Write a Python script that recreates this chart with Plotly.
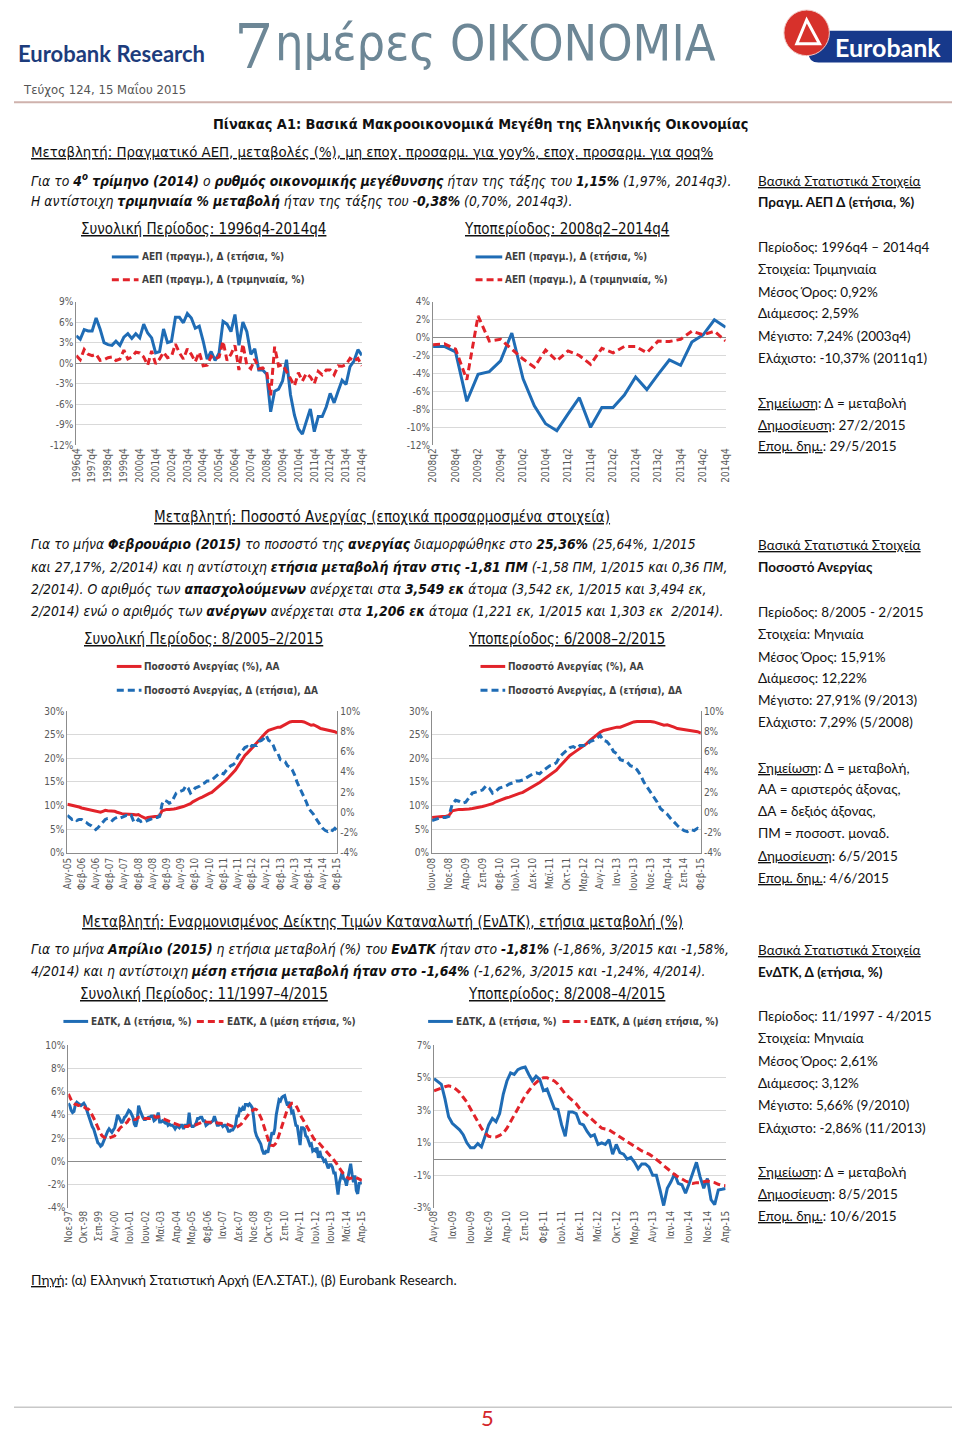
import plotly.graph_objects as go

W, H = 960, 1438
PAGE_MARGIN = 8  # default browser body margin around the plot div

# ---------------- DATA ----------------
month_abbr = ["Ιαν", "Φεβ", "Μαρ", "Απρ", "Μαϊ", "Ιουν", "Ιουλ", "Αυγ", "Σεπ", "Οκτ", "Νοε", "Δεκ"]


def month_labels(y0, m0, y1, m1):
    out = []
    y, m = y0, m0
    while (y, m) <= (y1, m1):
        out.append(f"{month_abbr[m - 1]}-{y % 100:02d}")
        m += 1
        if m == 13:
            m, y = 1, y + 1
    return out


gdp_quarters = ["1996q4"] + [f"{y}q{q}" for y in range(1997, 2015) for q in (1, 2, 3, 4)]

# GDP real, annual change % (yoy), 1996q4-2014q4
gdp_yoy = [4.0, 3.5, 4.9, 4.7, 4.7, 6.6, 5.0, 3.0, 2.7, 2.6, 3.2, 2.6, 3.8, 4.3, 3.6, 4.3,
           3.7, 5.7, 4.4, 3.7, 1.5, 1.7, 5.0, 3.0, 3.2, 6.7, 6.7, 5.9, 7.24, 6.6, 5.1, 5.4,
           3.2, 0.6, 1.7, 0.4, 1.5, 6.1, 5.7, 4.6, 7.1, 2.6, 6.0, 4.6, 1.3, 2.1,
           -1.0, -1.0, -1.6, -7.1, -4.1, -3.8, -2.6, 0.5, -4.6, -7.6, -9.6, -10.37, -8.5,
           -6.7, -10.0, -7.8, -7.8, -6.4, -4.4, -5.8, -4.1, -2.5, -3.1, -0.5, 0.3, 1.97, 1.15]
# GDP real, quarterly change % (qoq)
gdp_qoq = [1.1, 0.5, 2.0, 1.3, 1.1, 1.3, 0.4, 0.5, 0.8, 0.9, 0.4, 0.6, 1.9, 0.6, 0.9, 1.6,
           1.5, 0.9, -0.3, 1.8, -0.1, 0.6, 1.6, 0.8, 1.0, 2.8, 1.5, 0.6, 2.1, 1.3, 0.2, 1.6,
           -0.4, -0.3, 1.0, 0.6, 0.9, 3.2, 0.4, 1.3, 2.6, -1.0, 2.8, -0.3, -0.8, 0.6,
           -0.8, -0.7, -1.3, -4.7, 2.4, -0.4, -0.2, -1.3, -2.4, -3.3, -1.4, -2.6, -1.5,
           -2.0, -3.0, -1.2, -1.7, -1.0, -1.0, -1.7, -0.4, -0.45, -0.2, 0.7, 0.3, 0.70, -0.38]

unemp_months = month_labels(2005, 8, 2015, 2)
# Unemployment rate %, 8/2005-2/2015 (left axis)
unemp_rate = [10.3, 10.2, 10.1, 10.0, 9.9,
              9.7, 9.5, 9.4, 9.3, 9.1, 9.0, 8.9, 8.8, 8.7, 8.6, 8.8, 9.0,
              8.9, 8.9, 8.8, 8.8, 8.6, 8.4, 8.3, 8.2, 8.2, 8.1, 8.2, 8.1,
              8.0, 8.1, 7.8, 7.5, 7.29, 7.5, 7.6, 7.6, 7.7, 7.7, 7.9, 8.9,
              9.1, 9.2, 9.2, 9.2, 9.3, 9.4, 9.5, 9.7, 9.8, 10.0, 10.2, 10.4,
              10.8, 11.1, 11.3, 11.6, 11.8, 12.1, 12.4, 12.6, 12.8, 13.2, 13.6, 14.1,
              14.5, 14.9, 15.4, 15.9, 16.4, 16.9, 17.5, 18.3, 19.1, 20.0, 20.6, 21.1,
              21.6, 22.1, 22.6, 23.1, 23.8, 24.4, 25.0, 25.5, 25.9, 26.1, 26.2, 26.4,
              26.6, 26.6, 26.9, 27.1, 27.5, 27.7, 27.8, 27.8, 27.91, 27.8, 27.8, 27.7,
              27.5, 27.17, 27.0, 27.1, 26.9, 26.6, 26.3, 26.2, 26.1, 26.0, 25.9, 25.8,
              25.64, 25.36]
# Unemployment rate, annual change (pp), right axis
unemp_change = [-0.3, -0.5, -0.7, -0.6, -0.8,
                -0.7, -0.7, -0.9, -1.0, -1.2, -1.3, -1.5, -1.7, -1.5, -1.2, -0.9, -0.7,
                -0.6, -0.6, -0.8, -0.6, -0.5, -0.6, -0.5, -0.4, -0.3, -0.4, -0.3, -0.9,
                -1.0, -0.7, -0.9, -0.8, -0.9, -0.8, -0.7, -0.6, -0.5, -0.5, -0.4, 0.8,
                1.2, 1.1, 0.9, 1.0, 1.5, 1.9, 2.0, 2.1, 2.2, 2.6, 2.4, 1.9,
                2.1, 2.4, 2.5, 2.6, 2.8, 2.9, 3.1, 3.1, 3.2, 3.4, 3.6, 3.8,
                3.9, 3.8, 4.1, 4.4, 4.6, 4.7, 4.9, 5.5, 5.8, 6.2, 6.4, 6.5,
                6.3, 6.6, 6.6, 6.6, 7.0, 7.1, 7.3, 7.6, 7.1, 7.0, 6.6, 6.0,
                5.8, 5.2, 5.1, 5.0, 4.6, 4.5, 4.2, 3.7, 3.0, 2.5, 2.0, 1.6,
                1.0, 0.36, 0.1, -0.2, -0.6, -1.0, -1.3, -1.6, -1.8, -1.9, -1.7, -1.8,
                -1.58, -1.81]

cpi_months = month_labels(1997, 11, 2015, 4)
# HICP annual change %, 11/1997-4/2015
cpi_yoy = [5.0, 4.8,
           4.4, 4.2, 4.3, 4.9, 5.1, 5.0, 4.9, 4.8, 4.9, 5.0, 4.8, 4.4,
           4.1, 3.6, 3.2, 3.0, 2.8, 2.4, 2.0, 1.6, 1.5, 1.3, 1.4, 1.7,
           2.0, 2.4, 2.6, 2.8, 2.6, 2.5, 2.7, 2.9, 3.4, 4.0, 3.8, 3.5,
           3.3, 3.5, 3.8, 3.9, 4.2, 4.4, 4.3, 4.0, 3.8, 3.2, 3.0, 3.5,
           4.8, 4.4, 4.0, 3.8, 3.6, 3.6, 3.7, 3.8, 3.8, 3.9, 3.9, 3.5,
           3.6, 3.8, 4.2, 3.4, 3.4, 3.5, 3.4, 3.3, 3.4, 3.1, 3.2, 3.1,
           3.1, 3.0, 2.8, 3.0, 3.0, 2.9, 3.1, 3.1, 2.8, 3.1, 3.1, 3.1,
           4.2, 3.2, 3.0, 3.0, 3.1, 3.3, 3.7, 3.7, 3.8, 3.8, 3.5, 3.5,
           3.1, 3.2, 3.3, 3.3, 3.4, 3.5, 3.9, 3.4, 3.1, 3.1, 3.2, 3.2,
           3.0, 3.1, 3.1, 2.9, 2.6, 2.6, 2.7, 2.7, 2.9, 3.1, 3.9, 3.9,
           4.5, 4.4, 4.6, 4.4, 4.9, 4.9, 4.8, 4.95, 4.8, 4.6, 3.7, 2.6,
           2.2, 2.0, 1.8, 1.5, 1.0, 0.7, 0.7, 0.95, 0.75, 1.4, 2.1, 2.5,
           2.3, 2.8, 4.0, 4.8, 5.3, 5.2, 5.5, 5.6, 5.66, 5.2, 4.8, 5.1,
           4.9, 4.2, 4.3, 3.7, 3.1, 3.05, 2.1, 1.4, 2.9, 2.9, 2.8, 2.2,
           2.1, 1.7, 1.4, 1.5, 0.9, 1.0, 0.9, 1.2, 0.3, 0.9, 0.4, 0.3,
           0.0, 0.1, -0.2, -0.6, -0.3, -0.3, -0.5, -1.0, -1.0, -1.9, -2.86, -1.8,
           -1.4, -0.9, -1.5, -1.58, -2.1, -1.5, -0.8, -0.2, -1.1, -1.8, -1.2, -2.5,
           -2.8, -1.9, -1.86, -1.81]
# HICP average annual change %
cpi_avg = [5.8, 5.5,
           5.3, 5.1, 5.0, 4.9, 4.9, 4.8, 4.8, 4.7, 4.7, 4.7, 4.6, 4.5,
           4.5, 4.4, 4.2, 4.0, 3.7, 3.5, 3.2, 2.9, 2.6, 2.4, 2.2, 2.1,
           2.0, 1.95, 1.95, 2.0, 2.0, 2.05, 2.1, 2.2, 2.4, 2.6, 2.8, 2.9,
           3.0, 3.1, 3.2, 3.3, 3.4, 3.6, 3.7, 3.7, 3.7, 3.6, 3.6, 3.7,
           3.8, 3.8, 3.8, 3.8, 3.7, 3.7, 3.7, 3.7, 3.7, 3.8, 3.9, 3.9,
           3.8, 3.8, 3.85, 3.8, 3.75, 3.7, 3.65, 3.6, 3.55, 3.5, 3.45, 3.4,
           3.35, 3.3, 3.2, 3.2, 3.15, 3.1, 3.05, 3.05, 3.0, 3.0, 3.0, 3.0,
           3.1, 3.1, 3.1, 3.1, 3.1, 3.15, 3.2, 3.25, 3.3, 3.35, 3.4, 3.45,
           3.4, 3.4, 3.4, 3.4, 3.4, 3.4, 3.4, 3.35, 3.3, 3.3, 3.3, 3.3,
           3.3, 3.3, 3.25, 3.2, 3.15, 3.1, 3.05, 3.0, 2.95, 2.9, 2.95, 3.0,
           3.1, 3.2, 3.35, 3.5, 3.7, 3.85, 4.0, 4.2, 4.3, 4.4, 4.45, 4.5,
           4.45, 4.3, 4.1, 3.8, 3.5, 3.1, 2.7, 2.3, 1.9, 1.6, 1.4, 1.35,
           1.35, 1.45, 1.6, 1.9, 2.3, 2.7, 3.1, 3.5, 3.9, 4.2, 4.5, 4.7,
           4.9, 5.0, 5.0, 4.9, 4.8, 4.6, 4.3, 4.0, 3.8, 3.6, 3.4, 3.1,
           2.9, 2.7, 2.5, 2.3, 2.1, 1.9, 1.85, 1.8, 1.65, 1.5, 1.4, 1.2,
           1.05, 0.9, 0.75, 0.6, 0.5, 0.4, 0.3, 0.15, 0.0, -0.2, -0.4, -0.6,
           -0.8, -0.95, -1.1, -1.24, -1.35, -1.45, -1.5, -1.45, -1.45, -1.4, -1.35, -1.4,
           -1.45, -1.55, -1.62, -1.64]

# y tick values
gdp_full_ticks = [-12, -9, -6, -3, 0, 3, 6, 9]
gdp_sub_ticks = [-12, -10, -8, -6, -4, -2, 0, 2, 4]
unemp_left_ticks = [0, 5, 10, 15, 20, 25, 30]
unemp_right_ticks = [-4, -2, 0, 2, 4, 6, 8, 10]
cpi_full_ticks = [-4, -2, 0, 2, 4, 6, 8, 10]
cpi_sub_ticks = [-3, -1, 1, 3, 5, 7]

# subperiod slices
g0 = gdp_quarters.index("2008q2")
u0 = unemp_months.index("Ιουν-08")
c0 = cpi_months.index("Αυγ-08")

# ---------------- STYLE ----------------
NARROW = "Liberation Sans Narrow, DejaVu Sans Condensed, Arial Narrow, sans-serif"
REG = "Lato, Open Sans, sans-serif"
BLUE = "#1f6cb5"
RED = "#e2232a"
GRID = "#d9d9d9"
AXC = "#8c8c8c"
TICKC = "#595959"
TXT = "#111111"
DASH = "7px,4px"

FW, FH = W - 2 * PAGE_MARGIN, H - 2 * PAGE_MARGIN


def fx(px):
    return (px - PAGE_MARGIN) / FW


def fy(py):
    return 1 - (py - PAGE_MARGIN) / FH


fig = go.Figure()

# ---- traces ----
fig.add_trace(go.Scatter(x=gdp_quarters, y=gdp_yoy, mode="lines", xaxis="x", yaxis="y",
                         line=dict(color=BLUE, width=3)))
fig.add_trace(go.Scatter(x=gdp_quarters, y=gdp_qoq, mode="lines", xaxis="x", yaxis="y",
                         line=dict(color=RED, width=3, dash=DASH)))
fig.add_trace(go.Scatter(x=gdp_quarters[g0:], y=gdp_yoy[g0:], mode="lines", xaxis="x2", yaxis="y2",
                         line=dict(color=BLUE, width=3)))
fig.add_trace(go.Scatter(x=gdp_quarters[g0:], y=gdp_qoq[g0:], mode="lines", xaxis="x2", yaxis="y2",
                         line=dict(color=RED, width=3, dash=DASH)))
fig.add_trace(go.Scatter(x=unemp_months, y=unemp_rate, mode="lines", xaxis="x3", yaxis="y3",
                         line=dict(color=RED, width=3)))
fig.add_trace(go.Scatter(x=unemp_months, y=unemp_change, mode="lines", xaxis="x3", yaxis="y7",
                         line=dict(color=BLUE, width=3, dash=DASH)))
fig.add_trace(go.Scatter(x=unemp_months[u0:], y=unemp_rate[u0:], mode="lines", xaxis="x4", yaxis="y4",
                         line=dict(color=RED, width=3)))
fig.add_trace(go.Scatter(x=unemp_months[u0:], y=unemp_change[u0:], mode="lines", xaxis="x4", yaxis="y8",
                         line=dict(color=BLUE, width=3, dash=DASH)))
fig.add_trace(go.Scatter(x=cpi_months, y=cpi_yoy, mode="lines", xaxis="x5", yaxis="y5",
                         line=dict(color=BLUE, width=3)))
fig.add_trace(go.Scatter(x=cpi_months, y=cpi_avg, mode="lines", xaxis="x5", yaxis="y5",
                         line=dict(color=RED, width=3, dash=DASH)))
fig.add_trace(go.Scatter(x=cpi_months[c0:], y=cpi_yoy[c0:], mode="lines", xaxis="x6", yaxis="y6",
                         line=dict(color=BLUE, width=3)))
fig.add_trace(go.Scatter(x=cpi_months[c0:], y=cpi_avg[c0:], mode="lines", xaxis="x6", yaxis="y6",
                         line=dict(color=RED, width=3, dash=DASH)))

# ---- axes ----
tickfont = dict(family=NARROW, size=10, color=TICKC)


def xax(domain, yname, cats, step, bottom_line=False):
    return dict(domain=domain, anchor=yname, type="category", range=[0, len(cats) - 1],
                tickmode="array", tickvals=cats[::step], ticktext=cats[::step],
                tickangle=-90, tickfont=tickfont, showgrid=False, zeroline=False,
                showline=bottom_line, linecolor=AXC, linewidth=1, ticks="")


def zero_ticks_ax(domain, overlay, cats, step, rng, ydom):
    # category axis drawn on the 0% line, carrying only the small tick marks
    frac0 = (0 - rng[0]) / (rng[1] - rng[0])
    pos = ydom[0] + frac0 * (ydom[1] - ydom[0])
    return dict(domain=domain, overlaying=overlay, anchor="free", position=pos, type="category",
                categoryorder="array", categoryarray=cats, range=[0, len(cats) - 1],
                tickmode="array", tickvals=cats[::step], showticklabels=False,
                ticks="outside", ticklen=4, tickcolor=AXC, tickwidth=1,
                showgrid=False, zeroline=False, showline=False)


def yax(domain, xname, ticks, rng, side="left", grid=True, zero=True, overlay=None):
    d = dict(domain=domain, anchor=xname, range=rng, tickmode="array", tickvals=ticks,
             ticktext=[f"{v}%" for v in ticks], tickfont=tickfont, showgrid=grid,
             gridcolor=GRID, gridwidth=1, zeroline=zero, zerolinecolor=AXC, zerolinewidth=1,
             showline=True, linecolor=AXC, linewidth=1, ticks="", side=side)
    if overlay:
        d["overlaying"] = overlay
    return d


d1x = [fx(71), fx(360)]
d2x = [fx(432), fx(728)]
dy12 = [fy(443), fy(298)]
d3x = [fx(62), fx(335)]
d4x = [fx(431), fx(703)]
dy34 = [fy(854), fy(711)]
d5x = [fx(63), fx(360)]
d6x = [fx(433), fx(728)]
dy56 = [fy(1212), fy(1048)]

nq_sub = gdp_quarters[g0:]
nu_sub = unemp_months[u0:]
nc_sub = cpi_months[c0:]

fig.update_layout(
    xaxis=xax(d1x, "y", gdp_quarters, 4),
    yaxis=yax(dy12, "x", gdp_full_ticks, [-12, 9]),
    xaxis2=xax(d2x, "y2", nq_sub, 2),
    yaxis2=yax(dy12, "x2", gdp_sub_ticks, [-12, 4]),
    xaxis3=xax(d3x, "y3", unemp_months, 6, bottom_line=True),
    yaxis3=yax(dy34, "x3", unemp_left_ticks, [0, 30], zero=False),
    yaxis7=yax(dy34, "x3", unemp_right_ticks, [-4, 10], side="right", grid=False, zero=False,
               overlay="y3"),
    xaxis4=xax(d4x, "y4", nu_sub, 5, bottom_line=True),
    yaxis4=yax(dy34, "x4", unemp_left_ticks, [0, 30], zero=False),
    yaxis8=yax(dy34, "x4", unemp_right_ticks, [-4, 10], side="right", grid=False, zero=False,
               overlay="y4"),
    xaxis5=xax(d5x, "y5", cpi_months, 11),
    yaxis5=yax(dy56, "x5", cpi_full_ticks, [-4, 10]),
    xaxis6=xax(d6x, "y6", nc_sub, 5),
    yaxis6=yax(dy56, "x6", cpi_sub_ticks, [-3, 7]),
    xaxis7=zero_ticks_ax(d1x, "x", gdp_quarters, 1, [-12, 9], dy12),
    xaxis8=zero_ticks_ax(d2x, "x2", nq_sub, 1, [-12, 4], dy12),
    xaxis9=zero_ticks_ax(d5x, "x5", cpi_months, 11, [-4, 10], dy56),
    xaxis10=zero_ticks_ax(d6x, "x6", nc_sub, 4, [-3, 7], dy56),
)

# ---- annotations & shapes ----
anns = []
shapes = []


def text(x, y, t, size=15, family=NARROW, color=TXT, xanchor="left"):
    anns.append(dict(x=fx(x), y=fy(y), xref="paper", yref="paper", text=t, showarrow=False,
                     xanchor=xanchor, yanchor="middle", font=dict(family=family, size=size, color=color)))


def hline(x0, x1, y, color, width, dash=None):
    ln = dict(color=color, width=width)
    if dash:
        ln["dash"] = dash
    shapes.append(dict(type="line", xref="paper", yref="paper", x0=fx(x0), x1=fx(x1),
                       y0=fy(y), y1=fy(y), line=ln))


# header
text(10, 48, "<b>Eurobank Research</b>", size=22, family="Lato, sans-serif", color="#1d3c7c")
text(229, 41, "7", size=62, family="DejaVu Serif, Liberation Serif, serif", color="#6d8796")
text(270, 37, "ημέρες ΟΙΚΟΝΟΜΙΑ", size=50, family=NARROW, color="#6d8796")
text(15, 84, "Τεύχος 124, 15 Μαΐου 2015", size=13, family=NARROW, color="#555555")
hline(8, 958, 97, "#cfb2ad", 2)
# eurobank logo
shapes.append(dict(type="path", xref="paper", yref="paper",
                   path=f"M {fx(812)},{fy(25)} L {fx(958)},{fy(25)} L {fx(958)},{fy(57)} "
                        f"L {fx(822)},{fy(57)} Q {fx(812)},{fy(57)} {fx(812)},{fy(47)} Z",
                   fillcolor="#17398b", line=dict(width=0)))
shapes.append(dict(type="circle", xref="paper", yref="paper", x0=fx(787), x1=fx(833),
                   y0=fy(50), y1=fy(4), fillcolor="#d7312b", line=dict(color="#f0c8c4", width=1)))
shapes.append(dict(type="path", xref="paper", yref="paper",
                   path=f"M {fx(800)},{fy(38)} L {fx(810)},{fy(14)} L {fx(823)},{fy(38)} Z",
                   fillcolor="rgba(0,0,0,0)", line=dict(color="white", width=3)))
text(892, 41, "<b>Eurobank</b>", size=25, family="Lato, sans-serif", color="white", xanchor="center")

PS = 13.8  # paragraph size

# section 1
text(480, 119, "<b>Πίνακας Α1: Βασικά Μακροοικονομικά Μεγέθη της Ελληνικής Οικονομίας</b>", size=14.4,
     xanchor="center")
text(23, 147, "<u>Μεταβλητή: Πραγματικό ΑΕΠ, μεταβολές (%), μη εποχ. προσαρμ. για yoy%, εποχ. προσαρμ. για qoq%</u>",
     size=14.8)
text(23, 175, "<i>Για το <b>4<sup>ο</sup> τρίμηνο (2014)</b> ο <b>ρυθμός οικονομικής μεγέθυνσης</b> ήταν της τάξης του "
              "<b>1,15%</b> (1,97%, 2014q3).</i>", size=PS)
text(23, 197, "<i>Η αντίστοιχη <b>τριμηνιαία % μεταβολή</b> ήταν της τάξης του -<b>0,38%</b> (0,70%, 2014q3).</i>",
     size=PS)
text(200, 225, "<u>Συνολική Περίοδος: 1996q4-2014q4</u>", xanchor="center")
text(567, 225, "<u>Υποπερίοδος: 2008q2–2014q4</u>", xanchor="center")

# section 2
text(380, 515, "<u>Μεταβλητή: Ποσοστό Ανεργίας (εποχικά προσαρμοσμένα στοιχεία)</u>", xanchor="center")
para2 = [
    "<i>Για το μήνα <b>Φεβρουάριο (2015)</b> το ποσοστό της <b>ανεργίας</b> διαμορφώθηκε στο <b>25,36%</b> (25,64%, 1/2015</i>",
    "<i>και 27,17%, 2/2014) και η αντίστοιχη <b>ετήσια μεταβολή ήταν στις -1,81 ΠΜ</b> (-1,58 ΠΜ, 1/2015 και 0,36 ΠΜ,</i>",
    "<i>2/2014). Ο αριθμός των <b>απασχολούμενων</b> ανέρχεται στα <b>3,549 εκ</b> άτομα (3,542 εκ, 1/2015 και 3,494 εκ,</i>",
    "<i>2/2014) ενώ ο αριθμός των <b>ανέργων</b> ανέρχεται στα <b>1,206 εκ</b> άτομα (1,221 εκ, 1/2015 και 1,303 εκ  2/2014).</i>",
]
for i, t in enumerate(para2):
    text(23, 543 + i * 22.4, t, size=PS)
text(200, 638, "<u>Συνολική Περίοδος: 8/2005–2/2015</u>", xanchor="center")
text(567, 638, "<u>Υποπερίοδος: 6/2008–2/2015</u>", xanchor="center")

# section 3
text(381, 924, "<u>Μεταβλητή: Εναρμονισμένος Δείκτης Τιμών Καταναλωτή (ΕνΔΤΚ), ετήσια μεταβολή (%)</u>",
     xanchor="center")
text(23, 951, "<i>Για το μήνα <b>Απρίλιο (2015)</b> η ετήσια μεταβολή (%) του <b>ΕνΔΤΚ</b> ήταν στο <b>-1,81%</b> "
              "(-1,86%, 3/2015 και -1,58%,</i>", size=PS)
text(23, 973, "<i>4/2014) και η αντίστοιχη <b>μέση ετήσια μεταβολή ήταν στο -1,64%</b> (-1,62%, 3/2015 και -1,24%, 4/2014).</i>",
     size=PS)
text(200, 996, "<u>Συνολική Περίοδος: 11/1997–4/2015</u>", xanchor="center")
text(567, 996, "<u>Υποπερίοδος: 8/2008–4/2015</u>", xanchor="center")

# footer
text(23, 1284, "<u>Πηγή</u>: (α) Ελληνική Στατιστική Αρχή (ΕΛ.ΣΤΑΤ.), (β) Eurobank Research.", size=13.7,
     family=REG)
hline(8, 958, 1413, "#c8c8c8", 1.5)
text(487, 1423, "5", size=22, family=REG, color="#d4262c", xanchor="center")

# right column stats
RC = 759
right_blocks = [
    (176, "<u>Βασικά Στατιστικά Στοιχεία</u>"), (198, "<b>Πραγμ. ΑΕΠ Δ (ετήσια, %)</b>"),
    (243, "Περίοδος: 1996q4 – 2014q4"), (265, "Στοιχεία: Τριμηνιαία"), (288, "Μέσος Όρος: 0,92%"),
    (310, "Διάμεσος: 2,59%"), (333, "Μέγιστο: 7,24% (2003q4)"), (355, "Ελάχιστο: -10,37% (2011q1)"),
    (400, "<u>Σημείωση</u>: Δ = μεταβολή"), (422, "<u>Δημοσίευση</u>: 27/2/2015"),
    (444, "<u>Επομ. δημ.</u>: 29/5/2015"),
    (544, "<u>Βασικά Στατιστικά Στοιχεία</u>"), (566, "<b>Ποσοστό Ανεργίας</b>"),
    (611, "Περίοδος: 8/2005 - 2/2015"), (633, "Στοιχεία: Μηνιαία"), (656, "Μέσος Όρος: 15,91%"),
    (678, "Διάμεσος: 12,22%"), (700, "Μέγιστο: 27,91% (9/2013)"), (722, "Ελάχιστο: 7,29% (5/2008)"),
    (768, "<u>Σημείωση</u>: Δ = μεταβολή,"), (790, "ΑΑ = αριστερός άξονας,"), (812, "ΔΑ = δεξιός άξονας,"),
    (834, "ΠΜ = ποσοστ. μοναδ."), (857, "<u>Δημοσίευση</u>: 6/5/2015"), (879, "<u>Επομ. δημ.</u>: 4/6/2015"),
    (952, "<u>Βασικά Στατιστικά Στοιχεία</u>"), (974, "<b>ΕνΔΤΚ, Δ (ετήσια, %)</b>"),
    (1019, "Περίοδος: 11/1997 - 4/2015"), (1041, "Στοιχεία: Μηνιαία"), (1064, "Μέσος Όρος: 2,61%"),
    (1086, "Διάμεσος: 3,12%"), (1108, "Μέγιστο: 5,66% (9/2010)"), (1131, "Ελάχιστο: -2,86% (11/2013)"),
    (1176, "<u>Σημείωση</u>: Δ = μεταβολή"), (1198, "<u>Δημοσίευση</u>: 8/5/2015"),
    (1220, "<u>Επομ. δημ.</u>: 10/6/2015"),
]
for y, t in right_blocks:
    text(RC, y, t, size=13.5, family=REG)

# chart legends (manual)
LEGC = "#404040"


def legend_item(x0, x1, y, color, dashed, label):
    hline(x0, x1, y, color, 3, dash=DASH if dashed else None)
    text(x1 + 1, y, f"<b>{label}</b>", size=10, family=NARROW, color=LEGC)


for lx in (107, 475):
    legend_item(lx, lx + 27, 253, BLUE, False, "ΑΕΠ (πραγμ.), Δ (ετήσια, %)")
    legend_item(lx, lx + 27, 276, RED, True, "ΑΕΠ (πραγμ.), Δ (τριμηνιαία, %)")
for lx in (112, 480):
    legend_item(lx, lx + 25, 666, RED, False, "Ποσοστό Ανεργίας (%), ΑΑ")
    legend_item(lx, lx + 25, 690, BLUE, True, "Ποσοστό Ανεργίας, Δ (ετήσια), ΔΑ")
legend_item(58, 83, 1024, BLUE, False, "ΕΔΤΚ, Δ (ετήσια, %)")
legend_item(193, 220, 1024, RED, True, "ΕΔΤΚ, Δ (μέση ετήσια, %)")
legend_item(427, 452, 1024, BLUE, False, "ΕΔΤΚ, Δ (ετήσια, %)")
legend_item(563, 588, 1024, RED, True, "ΕΔΤΚ, Δ (μέση ετήσια, %)")

fig.update_layout(
    width=FW, height=FH, margin=dict(l=0, r=0, t=0, b=0),
    paper_bgcolor="white", plot_bgcolor="white", showlegend=False,
    annotations=anns, shapes=shapes,
    font=dict(family=NARROW, color=TXT),
)

fig.write_html("out.html", config={"displayModeBar": False})
